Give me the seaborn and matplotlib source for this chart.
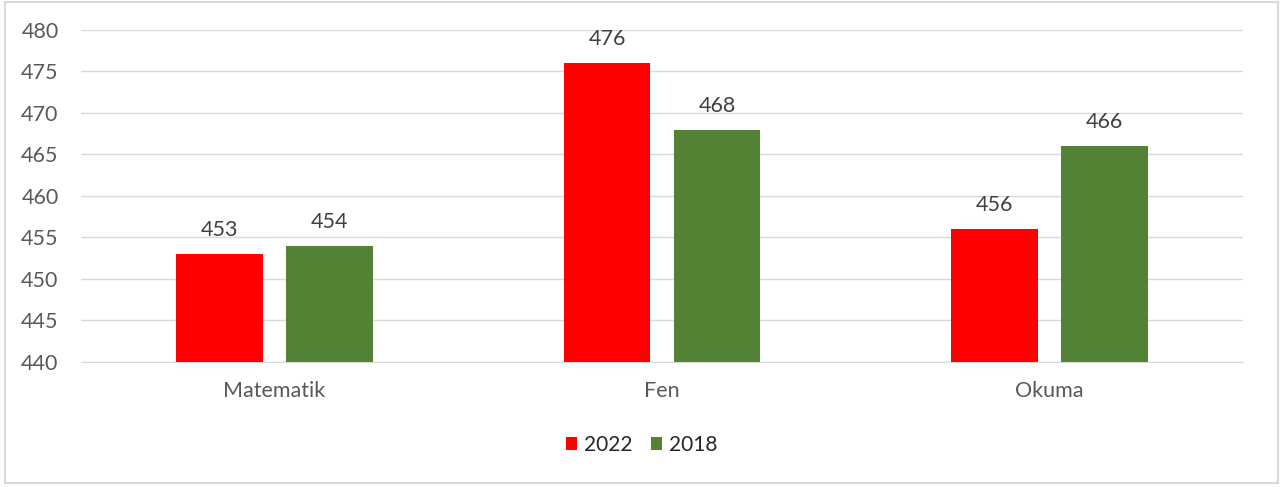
import pandas as pd
import matplotlib.pyplot as plt
import seaborn as sns
from matplotlib.patches import Rectangle

# PISA scores by subject
categories = ['Matematik', 'Fen', 'Okuma']
years = ['2022', '2018']
scores_2022 = [453, 476, 456]
scores_2018 = [454, 468, 466]

df = pd.DataFrame({
    'Ders': categories * 2,
    'Yıl': [years[0]] * 3 + [years[1]] * 3,
    'Puan': scores_2022 + scores_2018,
})

sns.set_style('white')
plt.rcParams['font.family'] = ['Lato', 'DejaVu Sans']

fig = plt.figure(figsize=(12.83, 4.87), dpi=100)
ax = fig.add_axes([0.063, 0.2567, 0.906, 0.6817])

palette = {'2022': '#FF0000', '2018': '#548235'}
sns.barplot(data=df, x='Ders', y='Puan', hue='Yıl', hue_order=years,
            palette=palette, width=0.567, gap=0.21, saturation=1,
            linewidth=0, ax=ax, zorder=3)

ax.set_ylim(440, 480)
ax.set_yticks(range(440, 481, 5))
ax.set_xlim(-0.5, 2.5)
ax.grid(axis='y', color='#D9D9D9', linewidth=1, zorder=0)
ax.set_axisbelow(True)
for s in ['top', 'right', 'left']:
    ax.spines[s].set_visible(False)
ax.spines['bottom'].set_color('#D9D9D9')
ax.tick_params(length=0, labelsize=15.5, colors='#595959')
ax.tick_params(axis='y', pad=16)
ax.tick_params(axis='x', pad=14)
ax.set_xlabel('')
ax.set_ylabel('')

for c in ax.containers:
    ax.bar_label(c, fmt='%d', padding=10, fontsize=15.5, color='#404040')

handles, labels = ax.get_legend_handles_labels()
ax.get_legend().remove()
fig.legend(handles, labels, loc='center', bbox_to_anchor=(0.5, 0.086), ncol=2,
           frameon=False, fontsize=15, handlelength=0.55, handleheight=0.55,
           handletextpad=0.3, columnspacing=0.9, labelcolor='#262626')

fig.patches.append(Rectangle((0.004, 0.008), 0.992, 0.988, transform=fig.transFigure,
                             fill=False, edgecolor='#D9D9D9', linewidth=1.5))

fig.savefig('out.png', dpi=100)
